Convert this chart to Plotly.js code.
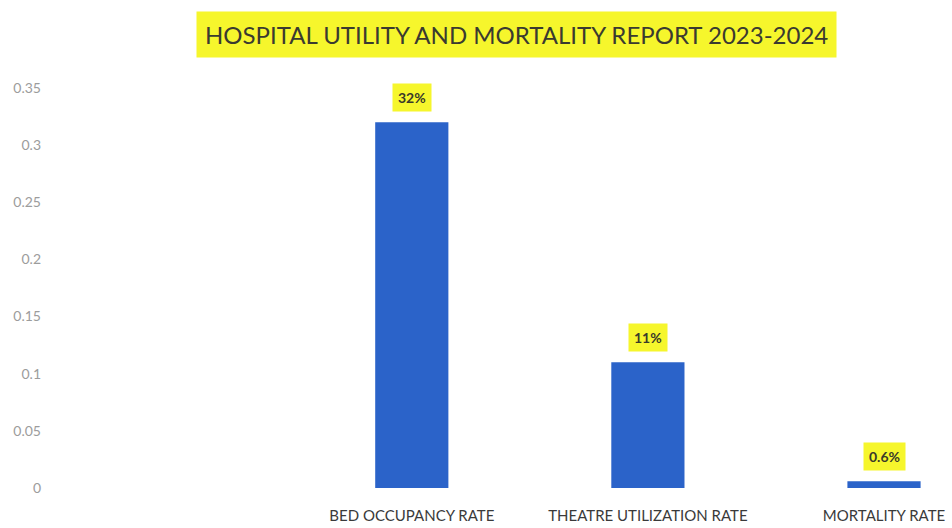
<!DOCTYPE html>
<html>
<head>
<meta charset="utf-8">
<script src="https://cdn.plot.ly/plotly-3.0.1.min.js"></script>
<style>html,body{margin:0;padding:0;background:#fff}#chart{width:952px;height:528px}</style>
</head>
<body>
<div id="chart"></div>
<script>
const categories = ["BED OCCUPANCY RATE", "THEATRE UTILIZATION RATE", "MORTALITY RATE"];
const values = [0.32, 0.11, 0.006];
const labels = ["32%", "11%", "0.6%"];
const yTicks = [0, 0.05, 0.1, 0.15, 0.2, 0.25, 0.3, 0.35];
const yTickText = ["0", "0.05", "0.1", "0.15", "0.2", "0.25", "0.3", "0.35"];
const titleText = "HOSPITAL UTILITY AND MORTALITY REPORT 2023-2024";

const trace = {
  type: "bar",
  x: categories,
  y: values,
  marker: {color: "#2B63C9"},
  width: 0.31,
  hoverinfo: "skip"
};

const annotations = categories.map((c, i) => ({
  x: c, y: values[i], xref: "x", yref: "y",
  text: "<b>" + labels[i] + "</b>",
  showarrow: false, yanchor: "bottom", yshift: 10,
  bgcolor: "#F6F62C", borderpad: 5,
  font: {family: "Lato, 'Open Sans', sans-serif", size: 14, color: "#3a3a2a"}
}));
annotations.push({
  x: 0.512, y: 1, xref: "paper", yref: "paper",
  xanchor: "center", yanchor: "bottom", yshift: 30,
  text: titleText, showarrow: false,
  bgcolor: "#F6F62C", borderpad: 8,
  font: {family: "Lato, 'Open Sans', sans-serif", size: 24, color: "#3a3a30"}
});

const layout = {
  width: 952, height: 528,
  margin: {l: 60, r: 0, t: 88, b: 40},
  paper_bgcolor: "#fff", plot_bgcolor: "#fff",
  showlegend: false,
  xaxis: {
    type: "category",
    range: [-1.49, 2.288],
    showgrid: false, zeroline: false, showline: false,
    ticks: "", ticklabelstandoff: 17,
    tickfont: {family: "Lato, 'Open Sans', sans-serif", size: 15, color: "#3a3a3a"}
  },
  yaxis: {
    range: [0, 0.35],
    tickvals: yTicks, ticktext: yTickText,
    showgrid: false, zeroline: false, showline: false,
    ticks: "", ticklabelstandoff: 18,
    tickfont: {family: "Lato, 'Open Sans', sans-serif", size: 14, color: "#9c9c9c"}
  },
  annotations: annotations
};

Plotly.newPlot("chart", [trace], layout, {displayModeBar: false, staticPlot: true});
</script>
</body>
</html>
